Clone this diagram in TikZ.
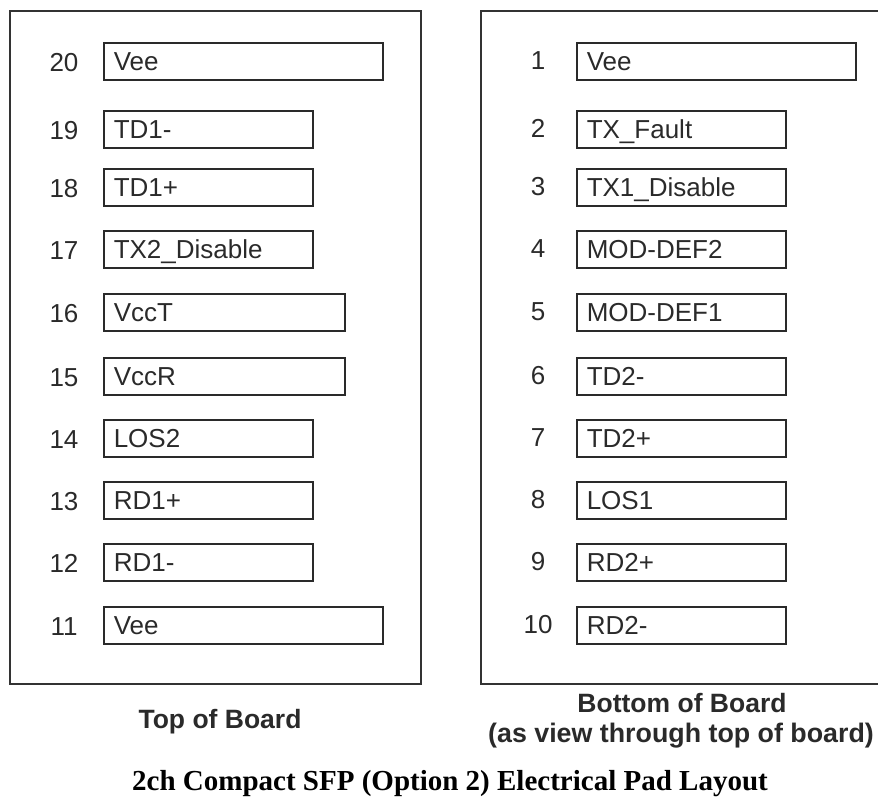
\documentclass[tikz,border=0pt]{standalone}
\usepackage{fontspec}
\setmainfont{Liberation Serif}
\newfontfamily\arialf{Liberation Sans}
\definecolor{ink}{HTML}{2A2A2A}
\definecolor{boxline}{HTML}{333333}
\tikzset{
  board/.style={draw=boxline, line width=1.6pt, anchor=north west, inner sep=0pt},
  pad/.style={draw=ink, line width=1.5pt, anchor=north west, minimum height=37pt,
    inner ysep=0pt, inner xsep=10pt, text height=19pt, text depth=1pt, align=left,
    text=ink, font=\arialf\fontsize{26pt}{28pt}\selectfont},
  longpad/.style={pad, text width=259pt},
  midpad/.style={pad, text width=221pt},
  shortpad/.style={pad, text width=189pt},
  pinnum/.style={anchor=base, inner sep=0pt, text=ink, font=\arialf\fontsize{26pt}{28pt}\selectfont},
  caption/.style={anchor=base, inner sep=0pt, text=ink, font=\arialf\bfseries\fontsize{26.5pt}{28pt}\selectfont},
  titletext/.style={anchor=base, inner sep=0pt, font=\bfseries\fontsize{29pt}{31pt}\selectfont}
}
\begin{document}
\begin{tikzpicture}[x=1pt,y=-1pt]
\useasboundingbox (0,0) rectangle (878,796);
% boards
\node[board, minimum width=411pt, minimum height=673pt] (topboard) at (9,10) {};
\node[board, minimum width=430pt, minimum height=673pt] (botboard) at (480,10) {};
% left pads (top of board)
\node[longpad]  (p20) at (103,42)  {Vee};
\node[shortpad] (p19) at (103,110) {TD1-};
\node[shortpad] (p18) at (103,168) {TD1+};
\node[shortpad] (p17) at (103,230) {TX2\_Disable};
\node[midpad]   (p16) at (103,293) {VccT};
\node[midpad]   (p15) at (103,357) {VccR};
\node[shortpad] (p14) at (103,419) {LOS2};
\node[shortpad] (p13) at (103,481) {RD1+};
\node[shortpad] (p12) at (103,543) {RD1-};
\node[longpad]  (p11) at (103,606) {Vee};
\node[pinnum] (n20) at (64,71)  {20};
\node[pinnum] (n19) at (64,139) {19};
\node[pinnum] (n18) at (64,197) {18};
\node[pinnum] (n17) at (64,259) {17};
\node[pinnum] (n16) at (64,322) {16};
\node[pinnum] (n15) at (64,386) {15};
\node[pinnum] (n14) at (64,448) {14};
\node[pinnum] (n13) at (64,510) {13};
\node[pinnum] (n12) at (64,572) {12};
\node[pinnum] (n11) at (64,635) {11};
% right pads (bottom of board)
\node[longpad]  (p1)  at (576,42)  {Vee};
\node[shortpad] (p2)  at (576,110) {TX\_Fault};
\node[shortpad] (p3)  at (576,168) {TX1\_Disable};
\node[shortpad] (p4)  at (576,230) {MOD-DEF2};
\node[shortpad] (p5)  at (576,293) {MOD-DEF1};
\node[shortpad] (p6)  at (576,357) {TD2-};
\node[shortpad] (p7)  at (576,419) {TD2+};
\node[shortpad] (p8)  at (576,481) {LOS1};
\node[shortpad] (p9)  at (576,543) {RD2+};
\node[shortpad] (p10) at (576,606) {RD2-};
\node[pinnum] (n1)  at (538,69)  {1};
\node[pinnum] (n2)  at (538,137) {2};
\node[pinnum] (n3)  at (538,195) {3};
\node[pinnum] (n4)  at (538,257) {4};
\node[pinnum] (n5)  at (538,320) {5};
\node[pinnum] (n6)  at (538,384) {6};
\node[pinnum] (n7)  at (538,446) {7};
\node[pinnum] (n8)  at (538,508) {8};
\node[pinnum] (n9)  at (538,570) {9};
\node[pinnum] (n10) at (538,633) {10};
% captions
\node[caption] (captop) at (220,728) {Top of Board};
\node[caption] (capbot1) at (682,712) {Bottom of Board};
\node[caption, font=\arialf\bfseries\fontsize{26.8pt}{29pt}\selectfont] (capbot2) at (681,742) {(as view through top of board)};
\node[titletext] (title) at (450,790) {2ch Compact SFP (Option 2) Electrical Pad Layout};
\end{tikzpicture}
\end{document}
